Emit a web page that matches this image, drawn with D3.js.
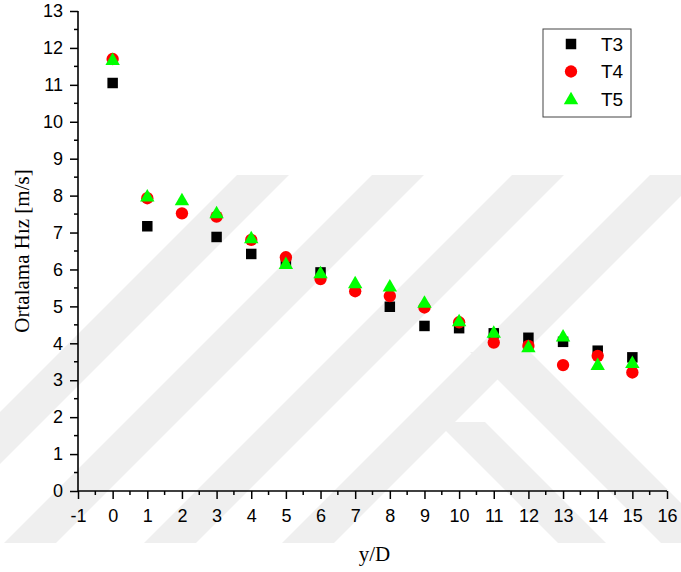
<!DOCTYPE html>
<html>
<head>
<meta charset="utf-8">
<script src="https://cdn.jsdelivr.net/npm/d3@7/dist/d3.min.js"></script>
<style>
  body { margin: 0; background: #fff; }
  svg { display: block; }
</style>
</head>
<body>
<svg id="chart" width="681" height="572"></svg>
<script>
// y/D positions
const positions = [0, 1, 2, 3, 4, 5, 6, 7, 8, 9, 10, 11, 12, 13, 14, 15];
// mean velocity [m/s] per series (null = no point)
const t3 = [11.05, 7.17, null, 6.88, 6.42, 6.22, 5.92, null, 4.99, 4.47, 4.41, 4.27, 4.15, 4.04, 3.80, 3.62];
const t4 = [11.70, 7.93, 7.52, 7.43, 6.80, 6.33, 5.74, 5.41, 5.28, 4.97, 4.57, 4.02, 3.93, 3.41, 3.66, 3.21];
const t5 = [11.68, 7.98, 7.88, 7.53, 6.85, 6.15, 5.90, 5.63, 5.54, 5.10, 4.60, 4.29, 3.90, 4.19, 3.42, 3.47];
const seriesNames = ["T3", "T4", "T5"];
const xTicks = d3.range(-1, 17);
const yTicks = d3.range(0, 14);

const svg = d3.select("#chart");
const margin = { left: 78, right: 14, top: 11, bottom: 81 };
const W = 681, H = 572;

// faint background watermark (diagonal bands)
const wm = svg.append("g").attr("fill", "#efefef");
const bandTop = 175, bandBottom = 543;
[237, 372, 512, 650].forEach(x0 => {
  const w = 52, h = bandBottom - bandTop;
  wm.append("path").attr("d",
    `M${x0},${bandTop}L${x0 + w},${bandTop}L${x0 + w - h},${bandBottom}L${x0 - h},${bandBottom}Z`);
});
// "\" bands in the lower part
[[437, 422, 48], [470, 352, 60]].forEach(([x0, y0, w]) => {
  const h = bandBottom - y0;
  wm.append("path").attr("d",
    `M${x0},${y0}L${x0 + w},${y0}L${x0 + w + h},${bandBottom}L${x0 + h},${bandBottom}Z`);
});

const x = d3.scaleLinear().domain([-1, 16]).range([margin.left, W - margin.right]);
const y = d3.scaleLinear().domain([0, 13]).range([H - margin.bottom, margin.top]);

// axes
const xAxis = svg.append("g")
  .attr("transform", `translate(0,${y(0)})`)
  .call(d3.axisBottom(x).tickValues(xTicks).tickFormat(d => String(d)).tickSize(8).tickPadding(10));
const yAxis = svg.append("g")
  .attr("transform", `translate(${x(-1)},0)`)
  .call(d3.axisLeft(y).tickValues(yTicks).tickFormat(d => String(d)).tickSize(8).tickPadding(7));

// minor ticks
xAxis.selectAll(".minor").data(d3.range(-0.5, 16, 1)).enter().append("line")
  .attr("x1", d => x(d)).attr("x2", d => x(d)).attr("y1", 0).attr("y2", 4)
  .attr("stroke", "#000").attr("stroke-width", 1.5);
yAxis.selectAll(".minor").data(d3.range(0.5, 13, 1)).enter().append("line")
  .attr("y1", d => y(d)).attr("y2", d => y(d)).attr("x1", 0).attr("x2", -4)
  .attr("stroke", "#000").attr("stroke-width", 1.5);

[xAxis, yAxis].forEach(a => {
  a.select(".domain").attr("stroke", "#000").attr("stroke-width", 1.6);
  a.selectAll(".tick line").attr("stroke", "#000").attr("stroke-width", 1.5);
  a.selectAll(".tick text")
    .style("font-family", "'Liberation Sans', Arial, sans-serif")
    .style("font-size", "18px")
    .attr("fill", "#000");
});
xAxis.select(".domain").attr("d", `M${x(-1)},0H${x(16)}`);
yAxis.select(".domain").attr("d", `M0,${y(0)}V${y(13)}`);

// axis titles
svg.append("text")
  .attr("x", (x(-1) + x(16)) / 2 + 2).attr("y", 561)
  .attr("text-anchor", "middle")
  .style("font-family", "'Liberation Serif', 'Times New Roman', serif")
  .style("font-size", "21px")
  .text("y/D");
svg.append("text")
  .attr("transform", `translate(29,${(y(0) + y(13)) / 2}) rotate(-90)`)
  .attr("text-anchor", "middle")
  .style("font-family", "'Liberation Serif', 'Times New Roman', serif")
  .style("font-size", "21px")
  .text("Ortalama Hız [m/s]");

// markers
const square = d3.symbol().type(d3.symbolSquare).size(110);
const circle = d3.symbol().type(d3.symbolCircle).size(120);
const triangle = d3.symbol().type(d3.symbolTriangle).size(90);
const styles = [
  { data: t3, sym: square, fill: "#000000", dy: 0 },
  { data: t4, sym: circle, fill: "#ff0000", dy: 0 },
  { data: t5, sym: triangle, fill: "#00ff00", dy: 1 }
];

styles.forEach(s => {
  svg.append("g").selectAll("path")
    .data(positions.map((p, i) => [p, s.data[i]]).filter(d => d[1] != null))
    .enter().append("path")
    .attr("d", s.sym)
    .attr("fill", s.fill)
    .attr("transform", d => `translate(${x(d[0])},${y(d[1]) + s.dy})`);
});

// legend
const legend = svg.append("g").attr("transform", "translate(543,29)");
legend.append("rect").attr("width", 88).attr("height", 88)
  .attr("fill", "#fff").attr("stroke", "#444").attr("stroke-width", 1);
styles.forEach((s, i) => {
  const row = legend.append("g").attr("transform", `translate(0,${15 + i * 27.5})`);
  row.append("path").attr("d", s.sym).attr("fill", s.fill)
    .attr("transform", `translate(28,${s.dy})`);
  row.append("text").attr("x", 58).attr("y", 0).attr("dy", "0.36em")
    .style("font-family", "'Liberation Sans', Arial, sans-serif")
    .style("font-size", "19px")
    .text(seriesNames[i]);
});
</script>
</body>
</html>
